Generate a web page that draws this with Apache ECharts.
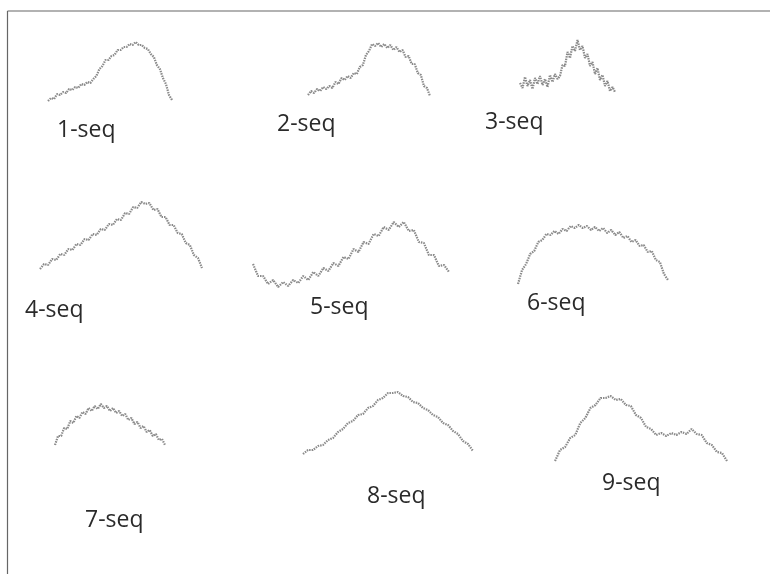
<!DOCTYPE html>
<html>
<head>
<meta charset="utf-8">
<script src="https://cdn.jsdelivr.net/npm/echarts@6/dist/echarts.min.js"></script>
<style>
html,body{margin:0;padding:0;background:#fff;}
#chart{width:770px;height:574px;}
</style>
</head>
<body>
<div id="chart"></div>
<script>
// Series labels
const labels = ['1-seq','2-seq','3-seq','4-seq','5-seq','6-seq','7-seq','8-seq','9-seq'];

// Sequence values (heights above each panel's baseline)
const seq1 = [3,6,5,10,9,12,11,15,14,17,16,20,19,22,21,25,28,35,38,44,44,48,49,54,54,57,57,60,59,62,59,59,56,55,50,47,39,35,26,20,9,4];
const seq2 = [5,9,7,11,9,13,11,14,12,18,16,22,20,24,22,27,26,33,35,45,49,56,54,57,53,56,52,55,50,53,48,50,43,44,36,36,27,25,14,12,4];
const seq3 = [13,8,19,10,16,7,18,12,20,11,17,9,21,14,22,17,20,31,30,44,38,50,45,56,46,50,38,42,30,34,22,28,16,21,10,15,5,9,4];
const seq4 = [3,8,7,13,12,18,17,23,22,28,27,33,32,38,37,43,42,48,47,53,52,59,58,65,64,70,68,69,62,63,55,55,47,47,39,38,29,27,17,14,4];
const seq5 = [26,14,14,6,10,3,8,4,10,7,14,10,18,14,22,19,27,24,33,31,41,38,48,46,56,54,63,60,68,63,68,59,60,48,47,35,35,24,25,18];
const seq6 = [2,16,22,32,35,44,46,52,51,55,52,57,55,60,58,61,58,60,56,59,55,58,53,56,51,54,48,50,44,46,40,41,34,35,26,24,12,6];
const seq7 = [3,12,12,20,19,27,25,32,30,36,34,40,37,42,39,44,40,42,37,40,35,37,32,34,28,30,24,26,20,22,16,18,12,14,8,9,3];
const seq8 = [2,6,6,10,11,16,18,24,27,33,35,41,42,48,50,56,58,63,63,64,60,59,54,53,48,46,41,39,33,31,25,22,15,12,5];
const seq9 = [2,13,16,25,28,40,45,55,58,65,65,67,63,64,58,57,48,45,36,34,28,30,27,30,28,31,29,34,29,28,20,18,11,10,2];
const seqs = [seq1,seq2,seq3,seq4,seq5,seq6,seq7,seq8,seq9];

// Panel layout (pixels): left, top, width, height
const panels = [
  [48,38,124,66],
  [308,40,122,60],
  [520,38,95,58],
  [40,200,162,72],
  [253,220,196,70],
  [518,222,150,64],
  [55,404,110,44],
  [303,388,170,68],
  [555,393,172,70]
];
// Label anchor positions (left x, middle y)
const labelPos = [
  [57,134],[277,128],[485,126],
  [25,314],[310,311],[527,307],
  [85,524],[367,500],[602,487]
];

const grids = [], xAxes = [], yAxes = [], series = [], titles = [];
panels.forEach((p,i)=>{
  grids.push({left:p[0], top:p[1], width:p[2], height:p[3]});
  xAxes.push({type:'category', gridIndex:i, show:false, boundaryGap:false,
    data: seqs[i].map((_,k)=>k)});
  yAxes.push({type:'value', gridIndex:i, show:false, min:0, max:p[3]});
  series.push({type:'line', xAxisIndex:i, yAxisIndex:i, data:seqs[i],
    symbol:'none', smooth:false, silent:true,
    lineStyle:{color:'#8a8a8a', width:2.2, type:[1.5,1]}});
});
labels.forEach((t,i)=>{
  titles.push({text:t, left:labelPos[i][0], top:labelPos[i][1]-15,
    textStyle:{fontFamily:'Open Sans', fontSize:23, fontWeight:'normal', color:'#2a2a2a'},
    padding:0});
});

const chart = echarts.init(document.getElementById('chart'), null, {renderer:'canvas'});
chart.setOption({
  animation:false,
  backgroundColor:'#fff',
  title:titles,
  grid:grids,
  xAxis:xAxes,
  yAxis:yAxes,
  series:series,
  graphic:[
    {type:'line', shape:{x1:7.5,y1:11,x2:770,y2:11}, style:{stroke:'#666',lineWidth:1.2}},
    {type:'line', shape:{x1:7.5,y1:11,x2:7.5,y2:574}, style:{stroke:'#666',lineWidth:1.2}}
  ]
});
</script>
</body>
</html>
